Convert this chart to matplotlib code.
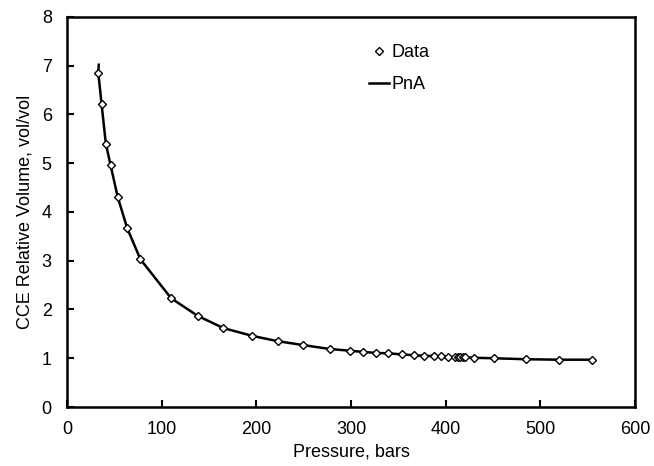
import matplotlib
matplotlib.use("Agg")
import matplotlib.pyplot as plt

plt.rcParams['font.family'] = ['Liberation Sans', 'DejaVu Sans']

data_p = [33, 36.5, 41, 46, 53.5, 63.5, 77.5, 110, 138, 165, 195.5, 222.5, 249.5,
          277.5, 298.5, 312.5, 326, 339.5, 353.5, 367, 377.5, 388, 395, 402,
          409.5, 412.5, 415, 418, 420, 429.5, 450.5, 484.5, 519.5, 554.5]
data_v = [6.86, 6.21, 5.40, 4.96, 4.31, 3.67, 3.03, 2.23, 1.87, 1.62, 1.46, 1.35, 1.27,
          1.19, 1.155, 1.13, 1.11, 1.10, 1.08, 1.06, 1.05, 1.046, 1.04, 1.03,
          1.02, 1.02, 1.02, 1.02, 1.02, 1.01, 1.00, 0.98, 0.97, 0.97]

pna_p = [33.5] + data_p
pna_v = [7.02] + data_v

fig = plt.figure(figsize=(6.54, 4.66), dpi=100)
ax = fig.add_axes([0.1025, 0.1266, 0.8685, 0.837])

ax.plot(pna_p, pna_v, color='black', lw=1.8, label='PnA', zorder=2)
ax.plot(data_p, data_v, linestyle='none', marker='D', markersize=4.5,
        markerfacecolor='white', markeredgecolor='black', markeredgewidth=1.0,
        label='Data', zorder=3)

ax.set_xlim(0, 600)
ax.set_ylim(0, 8)
ax.set_xticks(range(0, 601, 100))
ax.set_yticks(range(0, 9))
ax.tick_params(direction='in', length=5, width=1.5, labelsize=13)
ax.tick_params(axis='x', pad=10)
ax.tick_params(axis='y', pad=11)
for s in ax.spines.values():
    s.set_linewidth(1.8)

ax.set_xlabel('Pressure, bars', fontsize=13, labelpad=4)
ax.set_ylabel('CCE Relative Volume, vol/vol', fontsize=13, labelpad=6)

h, l = ax.get_legend_handles_labels()
ax.legend([h[1], h[0]], [l[1], l[0]], loc='upper left', bbox_to_anchor=(0.503, 0.972),
          frameon=False, fontsize=13, handlelength=1.1, handletextpad=0.15, labelspacing=0.85)

fig.savefig('out.png', dpi=100)
